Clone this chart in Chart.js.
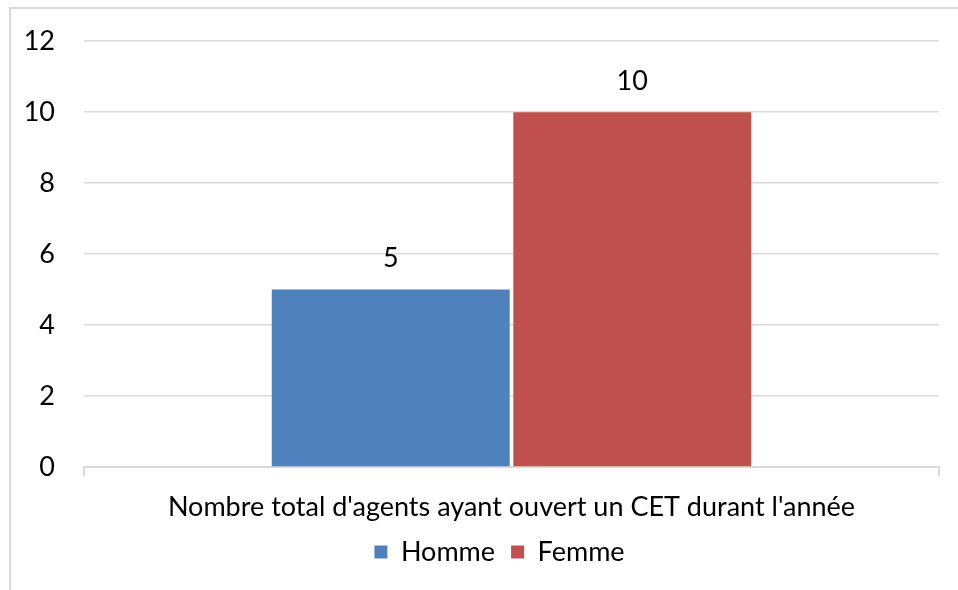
<!DOCTYPE html>
<html>
<head>
<meta charset="utf-8">
<script src="https://cdn.jsdelivr.net/npm/chart.js@4.4.0/dist/chart.umd.min.js"></script>
<style>
  html, body { margin: 0; padding: 0; background: #fff; }
  #wrap { position: relative; width: 958px; height: 590px; overflow: hidden; }
  #frame { position: absolute; left: 9px; top: 7px; width: 980px; height: 620px; border: 2px solid #d9d9d9; box-sizing: border-box; }
  #chart { position: absolute; left: 0; top: 0; }
</style>
</head>
<body>
<div id="wrap">
  <div id="frame"></div>
  <canvas id="chart" width="958" height="590"></canvas>
</div>
<script>
var categories = ["Nombre total d'agents ayant ouvert un CET durant l'année"];
var seriesNames = ['Homme', 'Femme'];
var hommeValues = [5];
var femmeValues = [10];
var seriesColors = ['#4F81BD', '#C0504D'];
var yTicks = [0, 2, 4, 6, 8, 10, 12];

var fontFamily = "Lato, 'Open Sans', sans-serif";
var fontSize = 27;

// draws the value above each bar
var valueLabels = {
    id: 'valueLabels',
    beforeDraw: function(chart) {
        // nudge the legend to the right, like the original
        if (!chart.legend._shifted) {
            chart.legend.left += 25;
            chart.legend.right += 25;
            chart.legend._shifted = true;
        }
    },
    afterDatasetsDraw: function(chart) {
        var ctx = chart.ctx;
        ctx.save();
        ctx.fillStyle = '#000';
        ctx.font = fontSize + 'px ' + fontFamily;
        ctx.textAlign = 'center';
        ctx.textBaseline = 'middle';
        chart.data.datasets.forEach(function(ds, i) {
            chart.getDatasetMeta(i).data.forEach(function(bar, j) {
                ctx.fillText(ds.data[j], bar.x, bar.y - 31);
            });
        });
        ctx.restore();
    }
};

var ctx = document.getElementById('chart').getContext('2d');
new Chart(ctx, {
    type: 'bar',
    data: {
        labels: categories,
        datasets: [
            { label: seriesNames[0], data: hommeValues, backgroundColor: seriesColors[0] },
            { label: seriesNames[1], data: femmeValues, backgroundColor: seriesColors[1] }
        ]
    },
    options: {
        responsive: false,
        animation: false,
        categoryPercentage: 0.565,
        barPercentage: 0.985,
        layout: { padding: { left: 10, right: 19, top: 20, bottom: 14.5 } },
        plugins: {
            legend: {
                position: 'bottom',
                labels: {
                    color: '#000',
                    font: { family: fontFamily, size: fontSize },
                    boxWidth: 13,
                    boxHeight: 13,
                    padding: 16
                }
            },
            tooltip: { enabled: false }
        },
        scales: {
            x: {
                grid: { drawOnChartArea: false, drawTicks: true, tickLength: 9, color: '#d9d9d9', lineWidth: 2 },
                border: { color: '#d9d9d9', width: 2 },
                ticks: { color: '#000', font: { family: fontFamily, size: fontSize, lineHeight: 1 }, padding: 17.5 },
                afterFit: function(axis) { axis.height = 55.5; }
            },
            y: {
                min: 0,
                max: 12,
                afterBuildTicks: function(axis) {
                    axis.ticks = yTicks.map(function(v) { return { value: v }; });
                },
                afterFit: function(axis) {
                    axis.width = 74;
                    axis.paddingTop -= 4;
                },
                grid: { color: '#d9d9d9', lineWidth: 1.5, drawTicks: false },
                border: { display: false },
                ticks: { color: '#000', font: { family: fontFamily, size: fontSize }, padding: 29 }
            }
        }
    },
    plugins: [valueLabels]
});
</script>
</body>
</html>
